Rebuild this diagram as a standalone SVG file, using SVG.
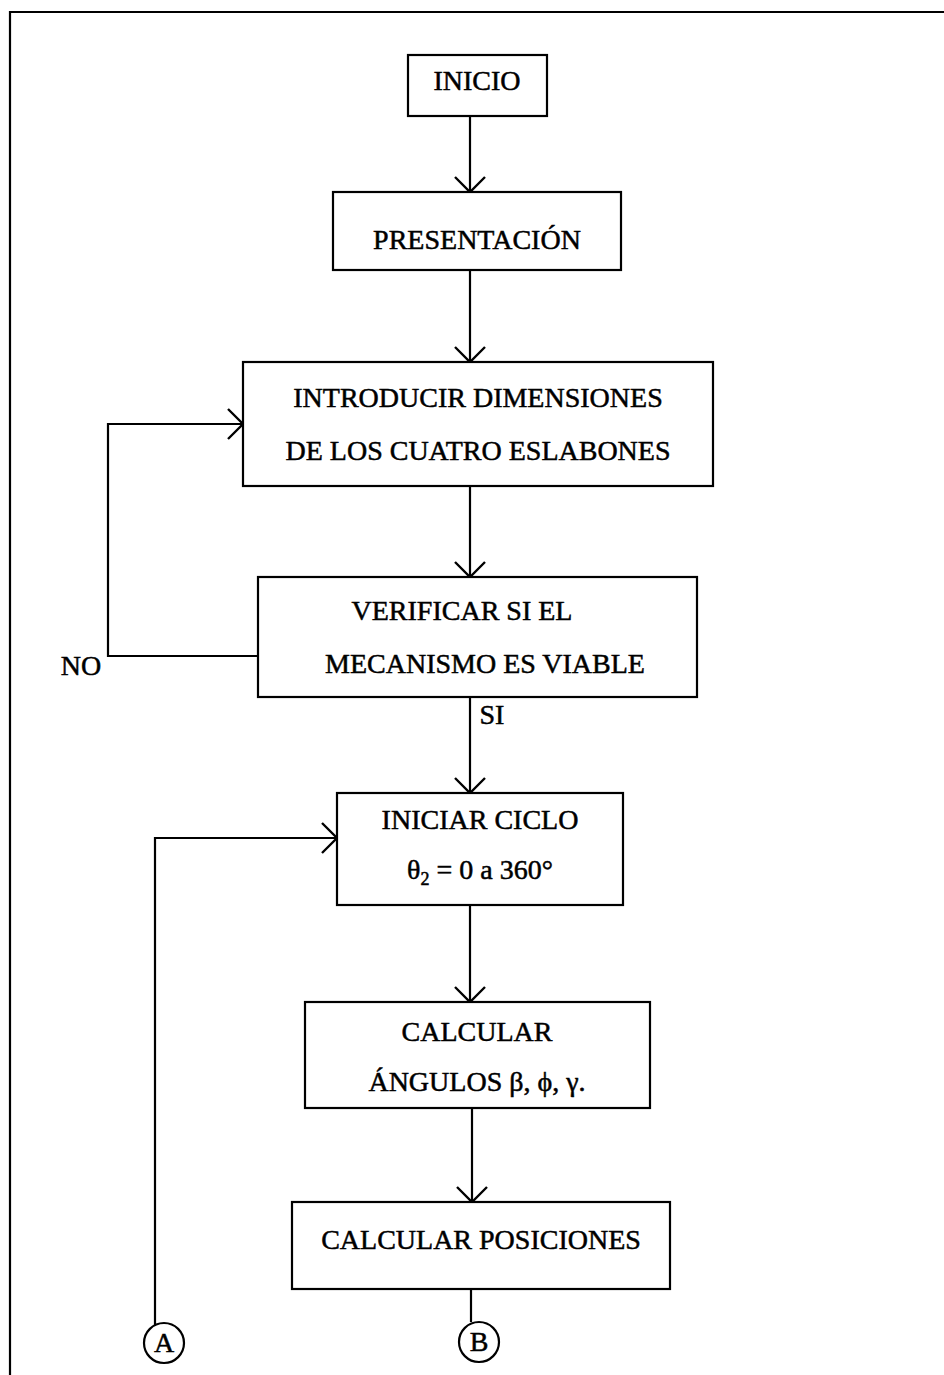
<svg xmlns="http://www.w3.org/2000/svg" width="944" height="1375" viewBox="0 0 944 1375">
<style>
.box{fill:#fff;stroke:#000;stroke-width:2.2}
.t{font-family:"Liberation Serif","Times New Roman",serif;font-size:28px;fill:#000;text-anchor:middle;stroke:#000;stroke-width:0.5}
.c{fill:none;stroke:#000;stroke-width:2.2}
</style>
<defs>
<marker id="arr" viewBox="0 0 18 32" refX="16" refY="16" markerWidth="18" markerHeight="32" markerUnits="userSpaceOnUse" orient="auto">
<path d="M1,1 L16,16 L1,31" fill="none" stroke="#000" stroke-width="2.4"/>
</marker>
</defs>
<rect width="944" height="1375" fill="#fff"/>
<g id="frame">
<path class="c" d="M10,1375 L10,12 L944,12"/>
</g>
<g id="connectors">
<path class="c" d="M470,116 L470,192" marker-end="url(#arr)"/>
<path class="c" d="M470,270 L470,362" marker-end="url(#arr)"/>
<path class="c" d="M470,486 L470,577" marker-end="url(#arr)"/>
<path class="c" d="M258,656 L108,656 L108,424 L243,424" marker-end="url(#arr)"/>
<path class="c" d="M470,697 L470,793" marker-end="url(#arr)"/>
<path class="c" d="M155,1325 L155,838 L337,838" marker-end="url(#arr)"/>
<path class="c" d="M470,905 L470,1002" marker-end="url(#arr)"/>
<path class="c" d="M472,1108 L472,1202" marker-end="url(#arr)"/>
<path class="c" d="M471,1289 L471,1322"/>
</g>
<g id="inicio">
<rect class="box" x="408" y="55" width="139" height="61"/>
<text class="t" x="477" y="90">INICIO</text>
</g>
<g id="presentacion">
<rect class="box" x="333" y="192" width="288" height="78"/>
<text class="t" x="477" y="249">PRESENTACIÓN</text>
</g>
<g id="introducir">
<rect class="box" x="243" y="362" width="470" height="124"/>
<text class="t" x="478" y="407">INTRODUCIR DIMENSIONES</text>
<text class="t" x="478" y="460">DE LOS CUATRO ESLABONES</text>
</g>
<g id="verificar">
<rect class="box" x="258" y="577" width="439" height="120"/>
<text class="t" x="462" y="620">VERIFICAR SI EL</text>
<text class="t" x="485" y="673">MECANISMO ES VIABLE</text>
</g>
<g id="no-label">
<text class="t" x="81" y="675">NO</text>
</g>
<g id="si-label">
<text class="t" x="492" y="724">SI</text>
</g>
<g id="iniciar">
<rect class="box" x="337" y="793" width="286" height="112"/>
<text class="t" x="480" y="829">INICIAR CICLO</text>
<text class="t" x="480" y="879">θ<tspan font-size="18" dy="6">2</tspan><tspan dy="-6"> = 0 a 360°</tspan></text>
</g>
<g id="angulos">
<rect class="box" x="305" y="1002" width="345" height="106"/>
<text class="t" x="477" y="1041">CALCULAR</text>
<text class="t" x="477" y="1091">ÁNGULOS β, ϕ, γ.</text>
</g>
<g id="posiciones">
<rect class="box" x="292" y="1202" width="378" height="87"/>
<text class="t" x="481" y="1249">CALCULAR POSICIONES</text>
</g>
<g id="connector-a">
<circle class="c" cx="164" cy="1343" r="20"/>
<text class="t" x="164" y="1352">A</text>
</g>
<g id="connector-b">
<circle class="c" cx="479" cy="1342" r="20"/>
<text class="t" x="479" y="1351">B</text>
</g>
</svg>
